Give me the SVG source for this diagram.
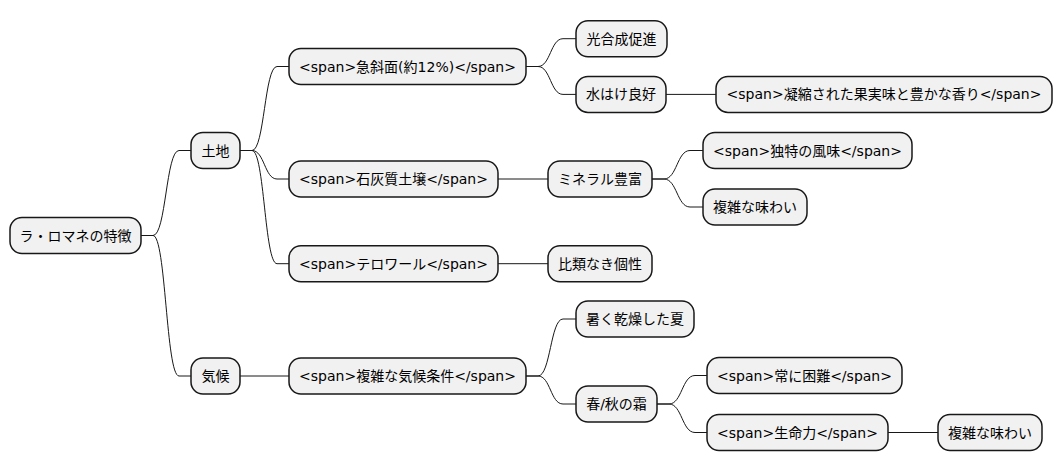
<svg xmlns="http://www.w3.org/2000/svg" width="1062" height="471" viewBox="0 0 1062 471">
<style>
.n rect{fill:#F1F1F1;stroke:#181818;stroke-width:1.5}
.n text{font-family:"DejaVu Sans","Noto Sans CJK JP",sans-serif;font-size:14px;fill:#000;text-anchor:middle}
.c path{fill:none;stroke:#181818;stroke-width:1}
</style>
<rect width="1062" height="471" fill="#FFFFFF"/>
<g class="c">
<!-- root -> 土地 / 気候 -->
<path d="M141,235.5 L153,235.5 C166,235.5 166,150.5 179,150.5 L191,150.5"/>
<path d="M141,235.5 L153,235.5 C166,235.5 166,376 179,376 L191,376"/>
<!-- 土地 -> children -->
<path d="M240,150.5 L252,150.5 C264.5,150.5 264.5,66.5 277,66.5 L289,66.5"/>
<path d="M240,150.5 L252,150.5 C264.5,150.5 264.5,179 277,179 L289,179"/>
<path d="M240,150.5 L252,150.5 C264.5,150.5 264.5,263.7 277,263.7 L289,263.7"/>
<!-- 急斜面 -> children -->
<path d="M526,66.5 L538,66.5 C550.5,66.5 550.5,38.7 563,38.7 L576,38.7"/>
<path d="M526,66.5 L538,66.5 C550.5,66.5 550.5,94.4 563,94.4 L576,94.4"/>
<path d="M666,94.4 L716,94.4"/>
<!-- 石灰質 -> ミネラル -->
<path d="M498,179 L548,179"/>
<path d="M652,179 L664,179 C677,179 677,150.5 690,150.5 L703,150.5"/>
<path d="M652,179 L664,179 C677,179 677,207 690,207 L703,207"/>
<!-- テロワール -->
<path d="M498,263.7 L548,263.7"/>
<!-- 気候 -->
<path d="M240,376 L289,376"/>
<path d="M526,376 L538,376 C550.5,376 550.5,319 563,319 L576,319"/>
<path d="M526,376 L538,376 C550.5,376 550.5,404 563,404 L576,404"/>
<path d="M657,404 L669,404 C682,404 682,375.5 695,375.5 L707,375.5"/>
<path d="M657,404 L669,404 C682,404 682,432.5 695,432.5 L707,432.5"/>
<path d="M888,432.5 L938,432.5"/>
</g>
<g id="root" class="n"><rect x="10" y="217.5" width="131" height="36" rx="12"/><text x="75.5" y="240.5">ラ・ロマネの特徴</text></g>
<g id="tochi" class="n"><rect x="191" y="132.5" width="49" height="36" rx="12"/><text x="215.5" y="155.5">土地</text></g>
<g id="kyushamen" class="n"><rect x="289" y="48.5" width="237" height="36" rx="12"/><text x="407.5" y="71.5">&lt;span&gt;急斜面(約12%)&lt;/span&gt;</text></g>
<g id="kogosei" class="n"><rect x="576" y="20.7" width="91" height="36" rx="12"/><text x="621.5" y="43.7">光合成促進</text></g>
<g id="mizuhake" class="n"><rect x="576" y="76.4" width="90" height="36" rx="12"/><text x="621" y="99.4">水はけ良好</text></g>
<g id="gyoshuku" class="n"><rect x="716" y="76.4" width="336" height="36" rx="12"/><text x="884" y="99.4">&lt;span&gt;凝縮された果実味と豊かな香り&lt;/span&gt;</text></g>
<g id="sekkai" class="n"><rect x="289" y="161" width="209" height="36" rx="12"/><text x="393.5" y="184">&lt;span&gt;石灰質土壌&lt;/span&gt;</text></g>
<g id="mineral" class="n"><rect x="548" y="161" width="104" height="36" rx="12"/><text x="600" y="184">ミネラル豊富</text></g>
<g id="dokutoku" class="n"><rect x="703" y="132.5" width="209" height="36" rx="12"/><text x="807.5" y="155.5">&lt;span&gt;独特の風味&lt;/span&gt;</text></g>
<g id="fukuzatsu1" class="n"><rect x="703" y="189" width="104" height="36" rx="12"/><text x="755" y="212">複雑な味わい</text></g>
<g id="terroir" class="n"><rect x="289" y="245.7" width="209" height="36" rx="12"/><text x="393.5" y="268.7">&lt;span&gt;テロワール&lt;/span&gt;</text></g>
<g id="hirui" class="n"><rect x="548" y="245.7" width="104" height="36" rx="12"/><text x="600" y="268.7">比類なき個性</text></g>
<g id="kiko" class="n"><rect x="191" y="358" width="49" height="36" rx="12"/><text x="215.5" y="381">気候</text></g>
<g id="kikojoken" class="n"><rect x="289" y="358" width="237" height="36" rx="12"/><text x="407.5" y="381">&lt;span&gt;複雑な気候条件&lt;/span&gt;</text></g>
<g id="natsu" class="n"><rect x="576" y="301" width="118" height="36" rx="12"/><text x="635" y="324">暑く乾燥した夏</text></g>
<g id="shimo" class="n"><rect x="576" y="386" width="81" height="36" rx="12"/><text x="616.5" y="409">春/秋の霜</text></g>
<g id="konnan" class="n"><rect x="707" y="357.5" width="195" height="36" rx="12"/><text x="804.5" y="380.5">&lt;span&gt;常に困難&lt;/span&gt;</text></g>
<g id="seimeiryoku" class="n"><rect x="707" y="414.5" width="181" height="36" rx="12"/><text x="797.5" y="437.5">&lt;span&gt;生命力&lt;/span&gt;</text></g>
<g id="fukuzatsu2" class="n"><rect x="938" y="414.5" width="104" height="36" rx="12"/><text x="990" y="437.5">複雑な味わい</text></g>
</svg>
